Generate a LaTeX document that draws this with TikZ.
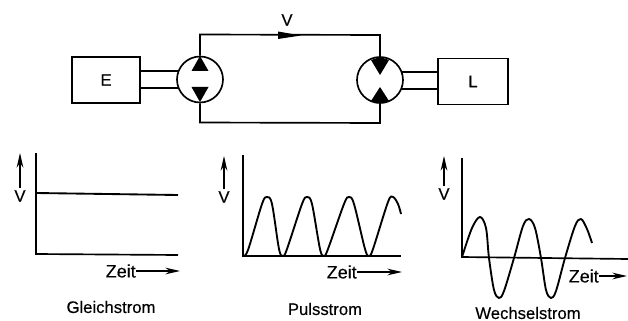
\documentclass[tikz,border=0pt]{standalone}
\usepackage{fontspec}
\setmainfont{Liberation Sans}
\usetikzlibrary{arrows.meta}
\newcommand{\heavytext}{\addfontfeature{FakeBold=0.25}}
\tikzset{
  wire/.style={line width=1.25pt,black,line join=miter},
  thin wire/.style={line width=1pt,black},
  box/.style={draw=black,line width=1.25pt,minimum width=51pt,minimum height=34.5pt,inner sep=0pt,font=\fontsize{12.5}{14}\selectfont\heavytext},
  unit/.style={draw=black,fill=white,circle,line width=1.25pt,minimum size=34.5pt,inner sep=0pt},
  tri/.style={fill=black,draw=none},
  lab/.style={inner sep=0pt,font=\fontsize{13.5}{15}\selectfont\heavytext},
  captionlab/.style={inner sep=0pt,font=\fontsize{12.5}{14}\selectfont\heavytext},
  axisline/.style={line width=1.25pt,black,line join=miter},
  curveline/.style={line width=1.4pt,black,line join=round},
  flowarrow/.style={line width=.85pt,black,-{Stealth[length=11pt,width=5pt]}},
  vlab/.style={inner sep=0pt,font=\fontsize{12.5}{14}\selectfont\heavytext}
}
\begin{document}
\begin{tikzpicture}[x=.75pt,y=-.75pt]
\useasboundingbox (0,0) rectangle (628,321);
% top circuit
\node[box] (E) at (106,80) {E};
\node[box,minimum width=52.5pt] (L) at (473,81.5) {L};
\node[unit] (P) at (200,79.5) {};
\node[unit] (M) at (380,80) {};
\coordinate (t1) at (200,34.5);
\coordinate (t2) at (380,35);
\coordinate (b1) at (200,122.5);
\coordinate (b2) at (380,123);
\draw[wire] (P.north) -- (t1) -- (t2) -- (M.north);
\draw[wire] (P.south) -- (b1) -- (b2) -- (M.south);
\fill[black] (278,31.5) -- (301,35.5) -- (278,39) -- cycle;
\node[vlab] (V) at (287,20) {V};
\foreach \yy in {71,88}{\draw[thin wire] (140,\yy) -- (178,\yy);}
\foreach \yy in {72,89}{\draw[thin wire] (402,\yy) -- (438,\yy);}
\fill[tri] (200,56) -- (208.5,71) -- (191.5,71) -- cycle;
\fill[tri] (200,102) -- (208.5,87) -- (191.5,87) -- cycle;
\fill[tri] (380,75) -- (389,60) -- (383,58) -- (377,58) -- (371,60) -- cycle;
\fill[tri] (380,87) -- (389,101) -- (384,103) -- (376,103) -- (371,101) -- cycle;
% chart 1
\coordinate (a1t) at (36,153);
\coordinate (a1o) at (36,254);
\coordinate (a1r) at (178,255);
\draw[axisline] (a1t) -- (a1o) -- (a1r);
\draw[curveline] (36,193) -- (178,195);
\node[vlab] (v1) at (20,196) {V};
\coordinate (v1t) at (20,153);
\draw[flowarrow] (v1.north) ++(0,-2) -- (v1t);
\node[lab,anchor=east] (z1) at (136,271) {Zeit};
\coordinate (z1e) at (180,271);
\draw[flowarrow] (z1.east) -- (z1e);
\node[captionlab] (c1) at (111,307) {Gleichstrom};
% chart 2
\coordinate (a2t) at (243,155);
\coordinate (a2o) at (243,256);
\coordinate (a2r) at (401,256);
\draw[axisline] (a2t) -- (a2o) -- (a2r);
\draw[curveline] plot[smooth,tension=.55] coordinates {(243,256) (248,250) (262,204) (267,197) (272,204) (279,249) (283,256) (287,249) (302,204) (307,197) (312,204) (320,249) (324,256) (328,249) (344,204) (349,197) (354,204) (365,249) (369,256) (373,249) (388,202) (393,197) (398,204) (401,214)};
\node[vlab] (v2) at (224,197) {V};
\coordinate (v2t) at (224,156);
\draw[flowarrow] (v2.north) ++(0,-2) -- (v2t);
\node[lab,anchor=east] (z2) at (357,272) {Zeit};
\coordinate (z2e) at (402,272);
\draw[flowarrow] (z2.east) -- (z2e);
\node[captionlab] (c2) at (325,309) {Pulsstrom};
% chart 3
\coordinate (a3t) at (462,158);
\coordinate (a3o) at (462,257);
\coordinate (a3r) at (628,259);
\draw[axisline] (a3t) -- (a3o) -- (a3r);
\draw[curveline] plot[smooth,tension=.55] coordinates {(462,257) (472,228) (480,217) (486,228) (489,258) (494,290) (499,298) (504,291) (514,258) (523,226) (529,219) (535,228) (541,258) (546,290) (551,298) (556,291) (565,258) (575,226) (581,219) (587,229) (592,243)};
\node[vlab] (v3) at (444,194) {V};
\coordinate (v3t) at (444,156);
\draw[flowarrow] (v3.north) ++(0,-2) -- (v3t);
\node[lab,anchor=east] (z3) at (599,276) {Zeit};
\coordinate (z3e) at (627,276);
\draw[flowarrow] (z3.east) -- (z3e);
\node[captionlab] (c3) at (528,313) {Wechselstrom};
\end{tikzpicture}
\end{document}
